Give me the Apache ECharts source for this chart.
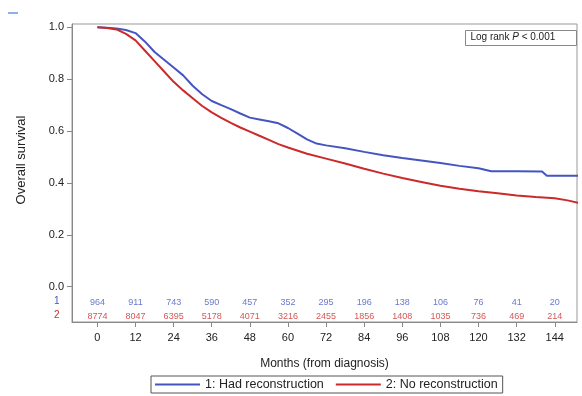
<!DOCTYPE html>
<html>
<head>
<meta charset="utf-8">
<script src="https://cdn.jsdelivr.net/npm/echarts@6/dist/echarts.min.js"></script>
<style>
  html, body { margin: 0; padding: 0; background: #fff; }
  #chart { width: 582px; height: 396px; }
</style>
</head>
<body>
<div id="chart"></div>
<script>
// survival curves, [months, survival]
var hadRecon = [
  [0, 1.000], [3, 0.999], [6, 0.996], [9, 0.990], [12, 0.978], [15, 0.945],
  [18, 0.905], [21, 0.875], [24, 0.845], [27, 0.815], [30, 0.775], [33, 0.742],
  [36, 0.716], [39, 0.700], [42, 0.685], [45, 0.668], [48, 0.652], [51, 0.645],
  [54, 0.638], [57, 0.630], [60, 0.612], [63, 0.590], [66, 0.568], [69, 0.552],
  [72, 0.545], [78, 0.534], [84, 0.520], [90, 0.507], [96, 0.496], [102, 0.487],
  [108, 0.477], [114, 0.466], [120, 0.457], [124, 0.445], [132, 0.445],
  [140, 0.444], [141.5, 0.428], [152, 0.428]
];
var noRecon = [
  [0, 1.000], [3, 0.998], [6, 0.992], [9, 0.975], [12, 0.950], [15, 0.910],
  [18, 0.870], [21, 0.830], [24, 0.790], [27, 0.757], [30, 0.727], [33, 0.697],
  [36, 0.672], [39, 0.651], [42, 0.632], [45, 0.614], [48, 0.598], [51, 0.582],
  [54, 0.566], [57, 0.550], [60, 0.537], [66, 0.513], [72, 0.494], [78, 0.475],
  [84, 0.455], [90, 0.436], [96, 0.419], [102, 0.404], [108, 0.389], [114, 0.378],
  [120, 0.368], [126, 0.360], [132, 0.352], [138, 0.346], [144, 0.341],
  [148, 0.333], [152, 0.322]
];

// number at risk
var riskMonths = [0, 12, 24, 36, 48, 60, 72, 84, 96, 108, 120, 132, 144];
var riskRecon = [964, 911, 743, 590, 457, 352, 295, 196, 138, 106, 76, 41, 20];
var riskNoRecon = [8774, 8047, 6395, 5178, 4071, 3216, 2455, 1856, 1408, 1035, 736, 469, 214];

var xTicks = [0, 12, 24, 36, 48, 60, 72, 84, 96, 108, 120, 132, 144];
var yTicks = [0, 0.2, 0.4, 0.6, 0.8, 1.0];

var blue = '#4455c0';
var red = '#cc2a2a';
var font = 'Liberation Sans';

var riskRow = function (counts, y) {
  var res = [];
  for (var i = 0; i < riskMonths.length; i++) {
    res.push([riskMonths[i], y, counts[i]]);
  }
  return res;
};

var chart = echarts.init(document.getElementById('chart'));

var option = {
  animation: false,
  textStyle: { fontFamily: font },
  grid: {
    left: 72, right: 5, top: 24, bottom: 74,
    show: true, borderColor: '#999', borderWidth: 1
  },
  xAxis: {
    type: 'value', min: -8, max: 151,
    splitLine: { show: false },
    axisLine: { show: true, onZero: false, lineStyle: { color: '#888' } },
    axisTick: { show: true, customValues: xTicks, length: 5, lineStyle: { color: '#888' } },
    axisLabel: { customValues: xTicks, color: '#222', fontSize: 11, margin: 10 },
    name: 'Months (from diagnosis)',
    nameLocation: 'middle',
    nameGap: 36,
    nameTextStyle: { color: '#222', fontSize: 12 }
  },
  yAxis: {
    type: 'value', min: -0.136, max: 1.013,
    splitLine: { show: false },
    axisLine: { show: true, onZero: false, lineStyle: { color: '#888' } },
    axisTick: { show: true, customValues: yTicks, length: 5, lineStyle: { color: '#888' } },
    axisLabel: {
      customValues: yTicks, color: '#222', fontSize: 11, margin: 8,
      formatter: function (v) { return v.toFixed(1); }
    }
  },
  legend: {
    data: ['1: Had reconstruction', '2: No reconstruction'],
    left: 151, top: 376, icon: 'rect',
    itemWidth: 45, itemHeight: 2, itemGap: 12,
    borderColor: '#555', borderWidth: 1, padding: [2, 5, 2, 4],
    textStyle: { color: '#222', fontSize: 12.5 }
  },
  graphic: [
    { type: 'rect', left: 8, top: 12, shape: { width: 10, height: 2 }, style: { fill: '#8fb0e8' } },
    {
      type: 'text', x: 21, y: 160, rotation: Math.PI / 2,
      style: {
        text: 'Overall survival', fill: '#222', fontSize: 13, fontFamily: font,
        align: 'center', verticalAlign: 'middle'
      }
    },
    {
      type: 'group', left: 465, top: 30,
      children: [
        { type: 'rect', shape: { x: 0, y: 0, width: 111, height: 15 }, style: { fill: '#fff', stroke: '#888', lineWidth: 1 } },
        {
          type: 'text', x: 5, y: 2,
          style: {
            text: '{a|Log rank }{b|P}{a| < 0.001}',
            rich: {
              a: { fontSize: 10, fill: '#222', fontFamily: font },
              b: { fontSize: 10, fill: '#222', fontStyle: 'italic', fontFamily: font }
            }
          }
        }
      ]
    },
    { type: 'text', left: 54, top: 296, style: { text: '1', fill: blue, fontSize: 10, fontFamily: font } },
    { type: 'text', left: 54, top: 310, style: { text: '2', fill: red, fontSize: 10, fontFamily: font } }
  ],
  series: [
    {
      name: '1: Had reconstruction', type: 'line', data: hadRecon,
      symbol: 'none', lineStyle: { color: blue, width: 2 }, itemStyle: { color: blue }
    },
    {
      name: '2: No reconstruction', type: 'line', data: noRecon,
      symbol: 'none', lineStyle: { color: red, width: 2 }, itemStyle: { color: red }
    },
    {
      name: 'risk1', type: 'scatter', data: riskRow(riskRecon, -0.059),
      symbolSize: 0, silent: true,
      label: {
        show: true, position: 'inside', color: blue, fontSize: 9,
        formatter: function (p) { return p.value[2]; }
      }
    },
    {
      name: 'risk2', type: 'scatter', data: riskRow(riskNoRecon, -0.113),
      symbolSize: 0, silent: true,
      label: {
        show: true, position: 'inside', color: red, fontSize: 9,
        formatter: function (p) { return p.value[2]; }
      }
    }
  ]
};
chart.setOption(option);
</script>
</body>
</html>
